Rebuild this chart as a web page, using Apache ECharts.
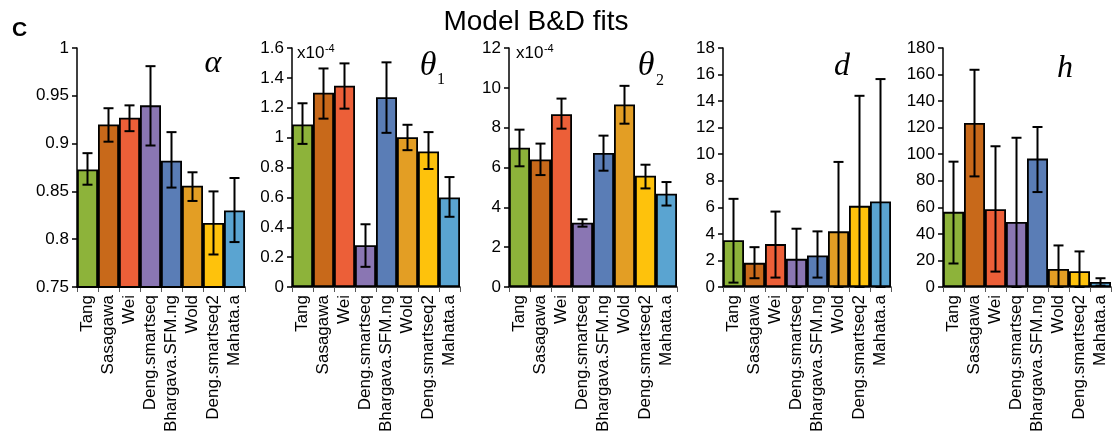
<!DOCTYPE html>
<html>
<head>
<meta charset="utf-8">
<script src="https://cdn.jsdelivr.net/npm/echarts@6/dist/echarts.min.js"></script>
<style>
html,body{margin:0;padding:0;background:#fff;}
#chart{width:1116px;height:436px;}
</style>
</head>
<body>
<div id="chart"></div>
<script>
const categories = ['Tang','Sasagawa','Wei','Deng.smartseq','Bhargava.SFM.ng','Wold','Deng.smartseq2','Mahata.a'];
const barColors = ['#8db33a','#c8691a','#ec5f38','#8a76b3','#5a7db6','#e39e24','#fec20c','#5aa4d1'];

const alphaVals = [0.873,0.920,0.927,0.940,0.882,0.856,0.817,0.830];
const alphaLow  = [0.857,0.902,0.913,0.898,0.854,0.840,0.784,0.797];
const alphaHigh = [0.890,0.937,0.940,0.981,0.912,0.870,0.850,0.864];

const theta1Vals = [1.088,1.300,1.347,0.280,1.270,1.003,0.907,0.600];
const theta1Low  = [0.958,1.127,1.194,0.135,1.032,0.916,0.790,0.470];
const theta1High = [1.230,1.463,1.497,0.420,1.504,1.086,1.037,0.736];

const theta2Vals = [6.99,6.40,8.67,3.23,6.73,9.16,5.59,4.68];
const theta2Low  = [6.06,5.62,7.95,3.03,5.84,8.20,4.95,4.09];
const theta2High = [7.90,7.20,9.46,3.40,7.60,10.10,6.14,5.27];

const dVals = [3.53,1.82,3.23,2.12,2.37,4.19,6.11,6.44];
const dLow  = [0.33,0.66,0.71,0,0.71,0,0,0];
const dHigh = [6.64,3.00,5.68,4.39,4.19,9.42,14.40,15.66];

const hVals = [56.6,123.5,58.6,49.0,96.7,13.6,11.9,3.8];
const hLow  = [17.7,83.3,11.6,0,71.5,0,0,1.0];
const hHigh = [94.4,163.6,106.0,112.4,120.5,31.3,26.8,6.6];

const yMins = [0.75, 0, 0, 0, 0];
const yMaxs = [1, 1.6, 12, 18, 180];
const yIntervals = [0.05, 0.2, 2, 2, 20];

const panels = [
  {vals: alphaVals, low: alphaLow, high: alphaHigh},
  {vals: theta1Vals, low: theta1Low, high: theta1High},
  {vals: theta2Vals, low: theta2Low, high: theta2High},
  {vals: dVals, low: dLow, high: dHigh},
  {vals: hVals, low: hLow, high: hHigh}
];

const gridLefts = [77, 292, 509, 723, 943];
const SANS = '"Liberation Sans", Arial, sans-serif';
const SERIF = '"Liberation Serif", "DejaVu Serif", serif';

function errRender(params, api) {
  const x = api.value(0);
  const lo = api.coord([x, api.value(1)]);
  const hi = api.coord([x, api.value(2)]);
  const hw = 5;
  const style = {stroke: '#000', lineWidth: 2};
  return {type: 'group', children: [
    {type: 'line', shape: {x1: hi[0], y1: hi[1], x2: lo[0], y2: lo[1]}, style: style},
    {type: 'line', shape: {x1: hi[0] - hw, y1: hi[1], x2: hi[0] + hw, y2: hi[1]}, style: style},
    {type: 'line', shape: {x1: lo[0] - hw, y1: lo[1], x2: lo[0] + hw, y2: lo[1]}, style: style}
  ]};
}

const grids = [], xAxes = [], yAxes = [], series = [];
panels.forEach((p, i) => {
  grids.push({left: gridLefts[i], top: 48, width: 168, height: 239, containLabel: false});
  xAxes.push({
    type: 'category', gridIndex: i, data: categories,
    axisLine: {lineStyle: {color: '#000', width: 1.5}},
    axisTick: {show: true, length: 5, lineStyle: {color: '#555', width: 1}},
    axisLabel: {interval: 0, rotate: 90, margin: 8, color: '#000', fontSize: 17, fontFamily: SANS},
    splitLine: {show: false}
  });
  yAxes.push({
    type: 'value', gridIndex: i, min: yMins[i], max: yMaxs[i], interval: yIntervals[i],
    axisLine: {show: true, lineStyle: {color: '#000', width: 1.5}},
    axisTick: {show: true, length: 5, lineStyle: {color: '#000', width: 1.5}},
    axisLabel: {color: '#000', fontSize: 17, fontFamily: SANS, margin: 8},
    splitLine: {show: false}
  });
  series.push({
    type: 'bar', xAxisIndex: i, yAxisIndex: i, barCategoryGap: '0%', clip: true,
    data: p.vals.map((v, k) => ({value: v, itemStyle: {color: barColors[k]}})),
    itemStyle: {borderColor: '#000', borderWidth: 1.8},
    emphasis: {disabled: true}, animation: false
  });
  series.push({
    type: 'custom', xAxisIndex: i, yAxisIndex: i, renderItem: errRender, z: 5,
    encode: {x: 0, y: [1, 2]},
    data: p.vals.map((v, k) => [k, p.low[k], p.high[k]]),
    animation: false, silent: true
  });
});

function txt(x, y, text, font, align, valign) {
  return {type: 'text', x: x, y: y, z: 100, silent: true,
    style: {text: text, font: font, fill: '#000', align: align || 'center', verticalAlign: valign || 'middle'}};
}

const measureCtx = document.createElement('canvas').getContext('2d');
function textWidth(text, font) { measureCtx.font = font; return measureCtx.measureText(text).width; }
const expFont = '17px ' + SANS;
const supFont = '11px ' + SANS;
const expW = textWidth('x10', expFont);

const graphics = [
  txt(536, 22, 'Model B&D fits', '28px ' + SANS),
  txt(19.5, 30, 'C', 'bold 21px ' + SANS),
  txt(213, 64, 'α', 'italic 32px ' + SERIF),
  txt(428, 66, 'θ', 'italic 34px ' + SERIF),
  txt(441, 80, '1', '16px ' + SERIF),
  txt(646, 66, 'θ', 'italic 34px ' + SERIF),
  txt(660, 81, '2', '16px ' + SERIF),
  txt(842, 67, 'd', 'italic 32px ' + SERIF),
  txt(1065, 69, 'h', 'italic 32px ' + SERIF),
  txt(297, 53.5, 'x10', expFont, 'left'),
  txt(297 + expW + 0.5, 48.5, '-4', supFont, 'left'),
  txt(516, 53.5, 'x10', expFont, 'left'),
  txt(516 + expW + 0.5, 48.5, '-4', supFont, 'left')
];

const chart = echarts.init(document.getElementById('chart'), null, {renderer: 'canvas'});
chart.setOption({
  animation: false,
  backgroundColor: '#fff',
  grid: grids, xAxis: xAxes, yAxis: yAxes, series: series,
  graphic: graphics
});
</script>
</body>
</html>
